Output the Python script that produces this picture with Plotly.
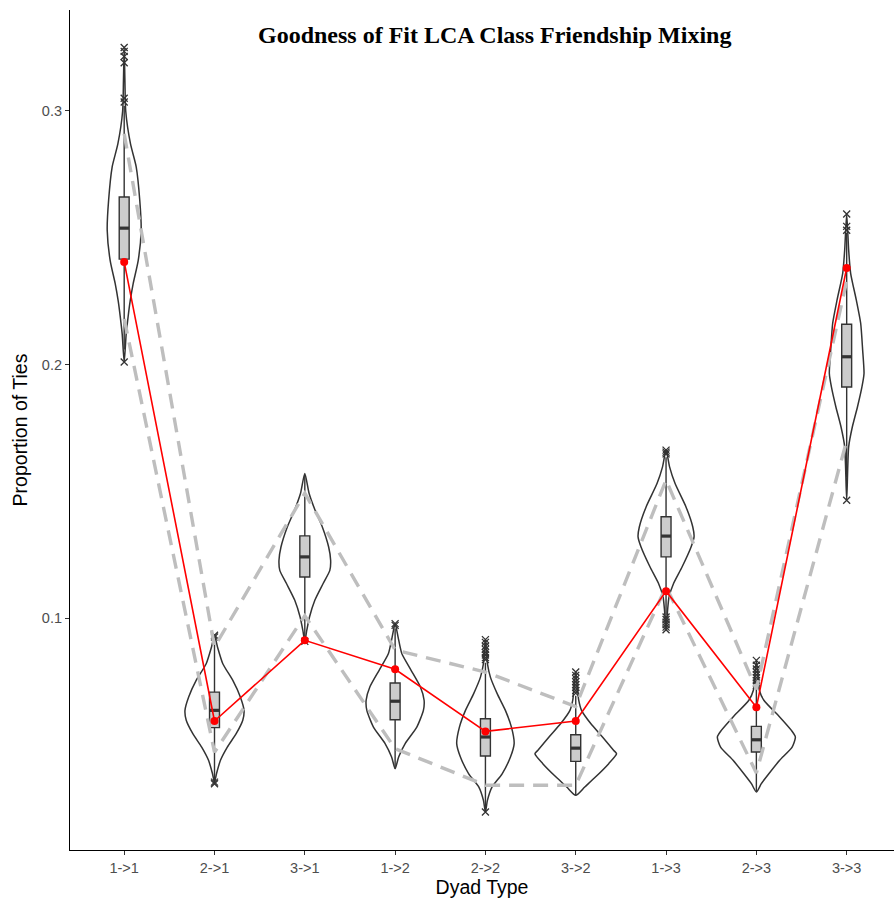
import plotly.graph_objects as go

# ---------------- data ----------------
categories = ["1->1", "2->1", "3->1", "1->2", "2->2", "3->2", "1->3", "2->3", "3->3"]

observed = [0.2405, 0.0595, 0.0913, 0.0799, 0.0554, 0.0595, 0.1107, 0.0649, 0.2381]
upper_bound = [0.291, 0.0887, 0.1493, 0.0875, 0.0788, 0.0652, 0.1545, 0.0720, 0.233]
lower_bound = [0.218, 0.0472, 0.1010, 0.0486, 0.0342, 0.0342, 0.1125, 0.0390, 0.170]

box_q1 = [0.2416, 0.0569, 0.1163, 0.0600, 0.0457, 0.0436, 0.1242, 0.0473, 0.1912]
box_median = [0.2538, 0.0637, 0.1242, 0.0673, 0.0532, 0.0488, 0.1324, 0.0521, 0.2031]
box_q3 = [0.2661, 0.0709, 0.1325, 0.0745, 0.0604, 0.0541, 0.1400, 0.0574, 0.2159]
whisker_low = [0.2060, 0.0360, 0.0925, 0.0407, 0.0245, 0.0302, 0.1012, 0.0318, 0.1555]
whisker_high = [0.3020, 0.0915, 0.1565, 0.0960, 0.0825, 0.0695, 0.1635, 0.0725, 0.2520]

outliers = [
    [0.3250, 0.3235, 0.3215, 0.3190, 0.3050, 0.3035, 0.2010],
    [0.0933, 0.0926, 0.0354, 0.0348],
    [0.0909],
    [0.0979, 0.0972],
    [0.0916, 0.0905, 0.0890, 0.0878, 0.0865, 0.0855, 0.0845, 0.0837, 0.0236],
    [0.0788, 0.0775, 0.0762, 0.0750, 0.0738, 0.0727, 0.0715, 0.0705],
    [0.1663, 0.1655, 0.1648, 0.1005, 0.0995, 0.0985, 0.0975, 0.0965, 0.0955],
    [0.0834, 0.0815, 0.0800, 0.0788, 0.0777, 0.0766, 0.0755, 0.0745, 0.0736],
    [0.2594, 0.2545, 0.2530, 0.1465],
]

# violin density profiles: y values and half-widths (category units)
violin_y = [
    [0.325, 0.312, 0.300, 0.287, 0.278, 0.265, 0.253, 0.241, 0.232, 0.225, 0.219, 0.212, 0.201],
    [0.0933, 0.0887, 0.0821, 0.0755, 0.0690, 0.0637, 0.0598, 0.0545, 0.0492, 0.0440, 0.0387, 0.0353],
    [0.1571, 0.1492, 0.1426, 0.1360, 0.1281, 0.1229, 0.1189, 0.1137, 0.1071, 0.1005, 0.0953, 0.0909],
    [0.0979, 0.0926, 0.0861, 0.0795, 0.0729, 0.0677, 0.0637, 0.0571, 0.0506, 0.0453, 0.0407],
    [0.0916, 0.0821, 0.0768, 0.0703, 0.0637, 0.0571, 0.0506, 0.0453, 0.0387, 0.0335, 0.0282, 0.0236],
    [0.0788, 0.0677, 0.0637, 0.0585, 0.0532, 0.0479, 0.0466, 0.0427, 0.0374, 0.0335, 0.0302],
    [0.1663, 0.1597, 0.1531, 0.1439, 0.1360, 0.1321, 0.1281, 0.1202, 0.1137, 0.1084, 0.1032, 0.0953],
    [0.0834, 0.0716, 0.0677, 0.0611, 0.0558, 0.0532, 0.0492, 0.0440, 0.0387, 0.0348, 0.0315],
    [0.2594, 0.2452, 0.2360, 0.2254, 0.2163, 0.2057, 0.1965, 0.1912, 0.1834, 0.1755, 0.1676, 0.1465],
]
violin_hw = [
    [0, 0.008, 0.017, 0.070, 0.133, 0.172, 0.188, 0.155, 0.100, 0.066, 0.044, 0.022, 0],
    [0, 0.033, 0.092, 0.203, 0.286, 0.327, 0.313, 0.240, 0.142, 0.066, 0.022, 0],
    [0, 0.048, 0.114, 0.194, 0.264, 0.286, 0.277, 0.203, 0.111, 0.052, 0.022, 0],
    [0, 0.033, 0.074, 0.177, 0.280, 0.321, 0.313, 0.240, 0.111, 0.039, 0],
    [0, 0.022, 0.055, 0.130, 0.221, 0.288, 0.318, 0.277, 0.185, 0.074, 0.022, 0],
    [0, 0.033, 0.064, 0.166, 0.296, 0.421, 0.452, 0.365, 0.218, 0.100, 0],
    [0, 0.039, 0.100, 0.221, 0.296, 0.310, 0.277, 0.177, 0.083, 0.033, 0.017, 0],
    [0, 0.033, 0.083, 0.258, 0.388, 0.432, 0.396, 0.258, 0.138, 0.055, 0],
    [0, 0.022, 0.044, 0.107, 0.155, 0.177, 0.192, 0.169, 0.120, 0.063, 0.022, 0],
]

y_ticks = [0.1, 0.2, 0.3]

# ---------------- figure ----------------
DARK = "#333333"
BOX_W = 0.11
positions = list(range(1, len(categories) + 1))

fig = go.Figure()

# violins
for p, ys, hws in zip(positions, violin_y, violin_hw):
    xs = [p + w for w in hws] + [p - w for w in reversed(hws[:-1])]
    yy = list(ys) + list(reversed(ys[:-1]))
    fig.add_trace(go.Scatter(
        x=xs, y=yy, mode="lines", line=dict(color=DARK, width=1.5, shape="spline", smoothing=0.6),
        hoverinfo="skip", showlegend=False))

# boxes
for p, a, m, b, lo, hi in zip(positions, box_q1, box_median, box_q3, whisker_low, whisker_high):
    fig.add_trace(go.Box(
        x=[p], q1=[a], median=[m], q3=[b], lowerfence=[lo], upperfence=[hi],
        width=BOX_W, whiskerwidth=0, boxpoints=False,
        fillcolor="#CCCCCC", line=dict(color=DARK, width=1.4), showlegend=False))

# thick medians
mx, my = [], []
for p, m in zip(positions, box_median):
    mx += [p - BOX_W / 2, p + BOX_W / 2, None]
    my += [m, m, None]
fig.add_trace(go.Scatter(x=mx, y=my, mode="lines", line=dict(color=DARK, width=3.2),
                         hoverinfo="skip", showlegend=False))

# outliers
ox, oy = [], []
for p, vals in zip(positions, outliers):
    ox += [p] * len(vals)
    oy += vals
fig.add_trace(go.Scatter(x=ox, y=oy, mode="markers",
                         marker=dict(symbol="x-thin", size=7, line=dict(color=DARK, width=1.3)),
                         showlegend=False))

# interval bounds
for series in (upper_bound, lower_bound):
    fig.add_trace(go.Scatter(x=positions, y=series, mode="lines",
                             line=dict(color="#BEBEBE", width=3.4, dash="15px,9px"),
                             showlegend=False))

# observed
fig.add_trace(go.Scatter(x=positions, y=observed, mode="lines+markers",
                         line=dict(color="red", width=1.6),
                         marker=dict(color="red", size=8), showlegend=False))

axis_common = dict(
    showline=True, linecolor="black", linewidth=1.2, mirror=False,
    ticks="outside", ticklen=4, tickcolor=DARK, tickwidth=1,
    tickfont=dict(family="Liberation Sans, Arial, sans-serif", size=14.5, color="#4D4D4D"),
    showgrid=False, zeroline=False,
)

fig.update_layout(
    width=894, height=902,
    margin=dict(l=70, r=0, t=10, b=52),
    paper_bgcolor="white", plot_bgcolor="white",
    font=dict(family="Liberation Sans, Arial, sans-serif"),
    xaxis=dict(range=[0.4, 9.524], tickvals=positions, ticktext=categories,
               title=dict(text="Dyad Type", font=dict(size=19.5, color="black"), standoff=5),
               **axis_common),
    yaxis=dict(range=[0.00865, 0.3398], tickvals=y_ticks, ticktext=[str(t) for t in y_ticks],
               title=dict(text="Proportion of Ties", font=dict(size=19.5, color="black"), standoff=9),
               **axis_common),
    annotations=[dict(
        text="<b>Goodness of Fit LCA Class Friendship Mixing</b>",
        xref="paper", yref="paper", x=0.5146, y=0.970, xanchor="center", yanchor="middle",
        showarrow=False, font=dict(family="Liberation Serif, Times New Roman, serif", size=24, color="black"))],
)

fig.write_html("out.html")
